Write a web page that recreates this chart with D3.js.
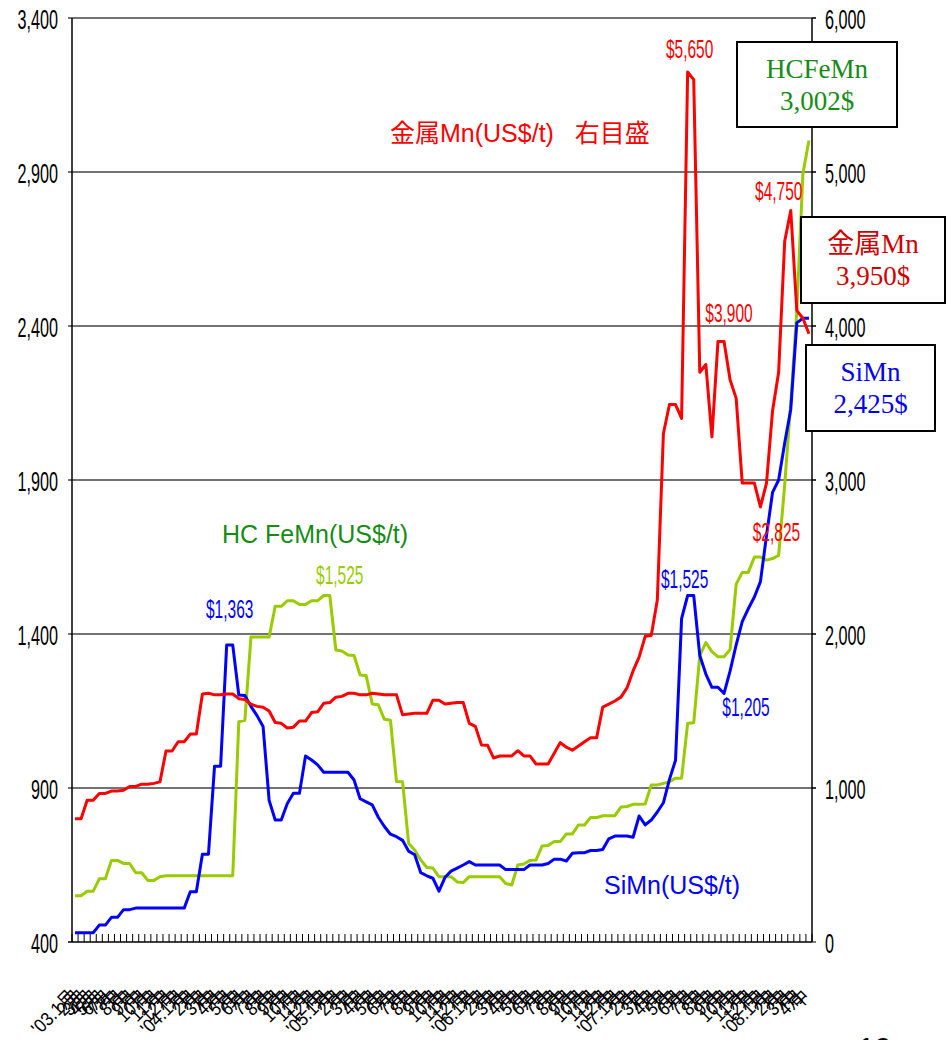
<!DOCTYPE html>
<html>
<head>
<meta charset="utf-8">
<script src="https://cdn.jsdelivr.net/npm/d3@7"></script>
<style>
  body { margin: 0; background: #fff; }
  svg { display: block; }
</style>
</head>
<body>
<div class="container"></div>
<script>
// x categories: 2003 partly monthly, then half-monthly to Apr 2008
const categories = [
  "'03.1月", "2月", "3月", "4月", "5月", "6月", "7月", "中", "8月", "中", "9月", "中", "10月", "中", "11月", "中", "12月", "中",
  "'04.1月", "中", "2月", "中", "3月", "中", "4月", "中", "5月", "中", "6月", "中", "7月", "中", "8月", "中", "9月", "中", "10月", "中", "11月", "中", "12月", "中",
  "'05.1月", "中", "2月", "中", "3月", "中", "4月", "中", "5月", "中", "6月", "中", "7月", "中", "8月", "中", "9月", "中", "10月", "中", "11月", "中", "12月", "中",
  "'06.1月", "中", "2月", "中", "3月", "中", "4月", "中", "5月", "中", "6月", "中", "7月", "中", "8月", "中", "9月", "中", "10月", "中", "11月", "中", "12月", "中",
  "'07.1月", "中", "2月", "中", "3月", "中", "4月", "中", "5月", "中", "6月", "中", "7月", "中", "8月", "中", "9月", "中", "10月", "中", "11月", "中", "12月", "中",
  "'08.1月", "中", "2月", "中", "3月", "中", "4月", "中"
];

// left axis (US$/t)
const hcFeMn = [
  550, 550, 565, 565, 605, 605, 665, 665, 655, 655,
  625, 625, 600, 600, 612, 615, 615, 615, 615, 615,
  615, 615, 615, 615, 615, 615, 615, 1115, 1120, 1390,
  1390, 1390, 1390, 1490, 1490, 1508, 1508, 1496, 1496, 1508,
  1508, 1525, 1525, 1348, 1345, 1332, 1330, 1267, 1265, 1173,
  1170, 1123, 1120, 921, 920, 720, 699, 666, 642, 640,
  612, 612, 612, 595, 593, 612, 612, 612, 612, 612,
  612, 590, 585, 650, 653, 665, 666, 712, 713, 726,
  726, 751, 751, 780, 780, 804, 804, 810, 810, 810,
  838, 840, 847, 847, 848, 910, 910, 915, 920, 932,
  932, 1110, 1112, 1330, 1372, 1343, 1326, 1326, 1350, 1562,
  1600, 1600, 1650, 1650, 1640, 1645, 1655, 1885, 2150, 2450,
  2895, 3002
];

const siMn = [
  430, 430, 430, 430, 455, 455, 480, 480, 505, 505,
  510, 510, 510, 510, 510, 510, 510, 510, 510, 563,
  563, 685, 685, 971, 971, 1364, 1364, 1202, 1200, 1165,
  1135, 1100, 860, 796, 796, 850, 883, 883, 1004, 991,
  975, 951, 951, 951, 951, 951, 926, 865, 855, 845,
  805, 775, 750, 742, 730, 695, 683, 625, 615, 607,
  565, 610, 630, 640, 650, 661, 650, 650, 650, 650,
  650, 635, 635, 635, 635, 650, 650, 650, 655, 669,
  669, 663, 688, 690, 690, 697, 697, 700, 735, 744,
  744, 744, 740, 809, 780, 796, 822, 852, 928, 990,
  1450, 1525, 1525, 1330, 1270, 1227, 1227, 1207, 1280, 1365,
  1440, 1482, 1520, 1570, 1720, 1860, 1900, 2020, 2130, 2410,
  2425, 2425
];

// right axis (US$/t)
const metalMn = [
  800, 800, 920, 920, 965, 965, 980, 980, 985, 1010,
  1010, 1025, 1025, 1030, 1040, 1240, 1240, 1300, 1300, 1350,
  1350, 1610, 1615, 1605, 1605, 1610, 1610, 1580, 1575, 1545,
  1530, 1525, 1500, 1425, 1420, 1390, 1395, 1435, 1435, 1490,
  1495, 1550, 1555, 1590, 1595, 1615, 1615, 1605, 1605, 1615,
  1610, 1605, 1605, 1605, 1475, 1480, 1485, 1485, 1485, 1570,
  1570, 1545, 1550, 1555, 1555, 1420, 1400, 1280, 1278, 1195,
  1208, 1208, 1208, 1242, 1208, 1208, 1156, 1156, 1156, 1225,
  1295, 1265, 1245, 1272, 1300, 1327, 1327, 1525, 1545, 1565,
  1590, 1650, 1760, 1850, 1985, 1990, 2220, 3300, 3490, 3490,
  3400, 5650, 5600, 3700, 3750, 3280, 3900, 3900, 3650, 3530,
  2980, 2980, 2980, 2825, 2980, 3450, 3700, 4550, 4750, 4100,
  4050, 3950
];

const leftTicks = [400, 900, 1400, 1900, 2400, 2900, 3400];
const rightTicks = [0, 1000, 2000, 3000, 4000, 5000, 6000];

// point callouts
const annoText = ["$5,650", "$3,900", "$4,750", "$2,825", "$1,363", "$1,525", "$1,525", "$1,205"];
const annoSeries = ["metal", "metal", "metal", "metal", "si", "hc", "si", "si"];
const annoIndex = [101, 106, 118, 113, 25, 41, 101, 107];

// latest price boxes
const boxName = ["HCFeMn", "金属Mn", "SiMn"];
const boxValue = ["3,002$", "3,950$", "2,425$"];

const width = 948;
const height = 1040;
const plot = { left: 72, right: 812, top: 18, bottom: 942 };
const numFont = "'Liberation Sans', Arial, sans-serif";
const cjkFont = "'Liberation Sans', Arial, 'Noto Sans CJK JP', sans-serif";
const serifFont = "'Liberation Serif', 'Times New Roman', 'Noto Sans CJK JP', serif";

const colors = {
  hc: "#99cc00",
  si: "#0000ff",
  metal: "#ff0000",
  hcText: "#168c16",
  metalBox: "#d00000",
  siBox: "#0000ee",
};

const svg = d3
  .select(".container")
  .append("svg")
  .attr("width", width)
  .attr("height", height);

svg.append("rect").attr("width", width).attr("height", height).attr("fill", "#fff");

const x = d3
  .scaleBand()
  .domain(d3.range(categories.length))
  .range([plot.left, plot.right]);
const cx = (i) => x(i) + x.bandwidth() / 2;

const yL = d3.scaleLinear().domain([400, 3400]).range([plot.bottom, plot.top]);
const yR = d3.scaleLinear().domain([0, 6000]).range([plot.bottom, plot.top]);

// condensed tall numerals like the original
const narrow = (parent, px, py, txt, size, sx, anchor, color) => {
  parent
    .append("g")
    .attr("transform", `translate(${px},${py}) scale(${sx},1)`)
    .append("text")
    .attr("text-anchor", anchor)
    .attr("font-family", numFont)
    .attr("font-size", size)
    .attr("fill", color)
    .text(txt);
};

// gridlines
svg
  .append("g")
  .selectAll("line")
  .data(leftTicks.slice(1))
  .enter()
  .append("line")
  .attr("x1", plot.left - 4)
  .attr("x2", plot.right + 4)
  .attr("y1", (d) => yL(d))
  .attr("y2", (d) => yL(d))
  .attr("stroke", "#444")
  .attr("stroke-width", 1.3);

// axes lines
const axes = svg.append("g").attr("stroke", "#000").attr("stroke-width", 1.5);
axes.append("line").attr("x1", plot.left).attr("x2", plot.left).attr("y1", plot.top).attr("y2", plot.bottom);
axes.append("line").attr("x1", plot.right).attr("x2", plot.right).attr("y1", plot.top).attr("y2", plot.bottom);
axes.append("line").attr("x1", plot.left - 4).attr("x2", plot.right).attr("y1", plot.bottom).attr("y2", plot.bottom);

// category tick marks at band edges
svg
  .append("g")
  .selectAll("line")
  .data(d3.range(categories.length + 1))
  .enter()
  .append("line")
  .attr("x1", (i) => (i < categories.length ? x(i) : plot.right))
  .attr("x2", (i) => (i < categories.length ? x(i) : plot.right))
  .attr("y1", plot.bottom)
  .attr("y2", plot.bottom - 8)
  .attr("stroke", "#000")
  .attr("stroke-width", 1);

// y tick labels
const leftLab = svg.append("g");
leftTicks.forEach((t) => narrow(leftLab, 58, yL(t) + 11, d3.format(",")(t), 27, 0.6, "end", "#000"));
const rightLab = svg.append("g");
rightTicks.forEach((t) => narrow(rightLab, 825, yR(t) + 11, d3.format(",")(t), 27, 0.6, "start", "#000"));
svg
  .append("g")
  .selectAll("line")
  .data(rightTicks)
  .enter()
  .append("line")
  .attr("x1", plot.right)
  .attr("x2", plot.right + 4)
  .attr("y1", (d) => yR(d))
  .attr("y2", (d) => yR(d))
  .attr("stroke", "#000");

// x labels, rotated
svg
  .append("g")
  .selectAll("text")
  .data(categories)
  .enter()
  .append("text")
  .attr("transform", (d, i) => `translate(${cx(i) + 2},${plot.bottom + 56}) rotate(-45) scale(0.9,1)`)
  .attr("text-anchor", "end")
  .attr("font-family", "'Liberation Sans', Arial, 'Noto Sans CJK JP', sans-serif")
  .attr("font-size", 19)
  .attr("fill", "#000")
  .text((d) => d);

// series lines
const lineL = d3.line().x((d, i) => cx(i)).y((d) => yL(d));
const lineR = d3.line().x((d, i) => cx(i)).y((d) => yR(d));

const seriesList = [
  { key: "hc", data: hcFeMn, line: lineL },
  { key: "si", data: siMn, line: lineL },
  { key: "metal", data: metalMn, line: lineR },
];
svg
  .append("g")
  .selectAll("path")
  .data(seriesList)
  .enter()
  .append("path")
  .attr("d", (s) => s.line(s.data))
  .attr("fill", "none")
  .attr("stroke", (s) => colors[s.key])
  .attr("stroke-width", 3)
  .attr("stroke-linejoin", "round");

// callouts
const seriesData = { hc: hcFeMn, si: siMn, metal: metalMn };
const annoDx = [2, 11, -12, 16, 3, 16, -3, 22];
const annoDy = [-14, -19, -11, 34, -27, -12, -8, 23];
const annoG = svg.append("g");
annoText.forEach((t, k) => {
  const s = annoSeries[k];
  const i = annoIndex[k];
  const v = seriesData[s][i];
  const py = s === "metal" ? yR(v) : yL(v);
  narrow(annoG, cx(i) + annoDx[k], py + annoDy[k], t, 25, 0.62, "middle", colors[s]);
});

// series names
const names = svg.append("g").attr("font-family", cjkFont).attr("font-size", 25);
names.append("text").attr("x", 390).attr("y", 142).attr("fill", colors.metal).text("金属Mn(US$/t)\u00a0\u00a0\u00a0右目盛");
names.append("text").attr("x", 222).attr("y", 543).attr("fill", colors.hcText).text("HC FeMn(US$/t)");
names.append("text").attr("x", 604).attr("y", 894).attr("fill", colors.si).text("SiMn(US$/t)");

// value boxes
const boxes = [
  { x: 737, y: 42, w: 160, h: 85, color: colors.hcText },
  { x: 801, y: 217, w: 144, h: 86, color: colors.metalBox },
  { x: 806, y: 345, w: 129, h: 86, color: colors.siBox },
];
const boxG = svg
  .append("g")
  .selectAll("g")
  .data(boxes)
  .enter()
  .append("g")
  .attr("transform", (b) => `translate(${b.x},${b.y})`);
boxG
  .append("rect")
  .attr("width", (b) => b.w)
  .attr("height", (b) => b.h)
  .attr("fill", "#fff")
  .attr("stroke", "#000")
  .attr("stroke-width", 2);
boxG
  .append("text")
  .attr("x", (b) => b.w / 2)
  .attr("y", 36)
  .attr("text-anchor", "middle")
  .attr("font-family", serifFont)
  .attr("font-size", 27)
  .attr("fill", (b) => b.color)
  .text((b, k) => boxName[k]);
boxG
  .append("text")
  .attr("x", (b) => b.w / 2)
  .attr("y", 68)
  .attr("text-anchor", "middle")
  .attr("font-family", serifFont)
  .attr("font-size", 27)
  .attr("fill", (b) => b.color)
  .text((b, k) => boxValue[k]);

// page number, cut off at the bottom edge as in the original
svg
  .append("text")
  .attr("x", 858)
  .attr("y", 1058)
  .attr("font-family", numFont)
  .attr("font-size", 30)
  .attr("fill", "#000")
  .text("19");
</script>
</body>
</html>
